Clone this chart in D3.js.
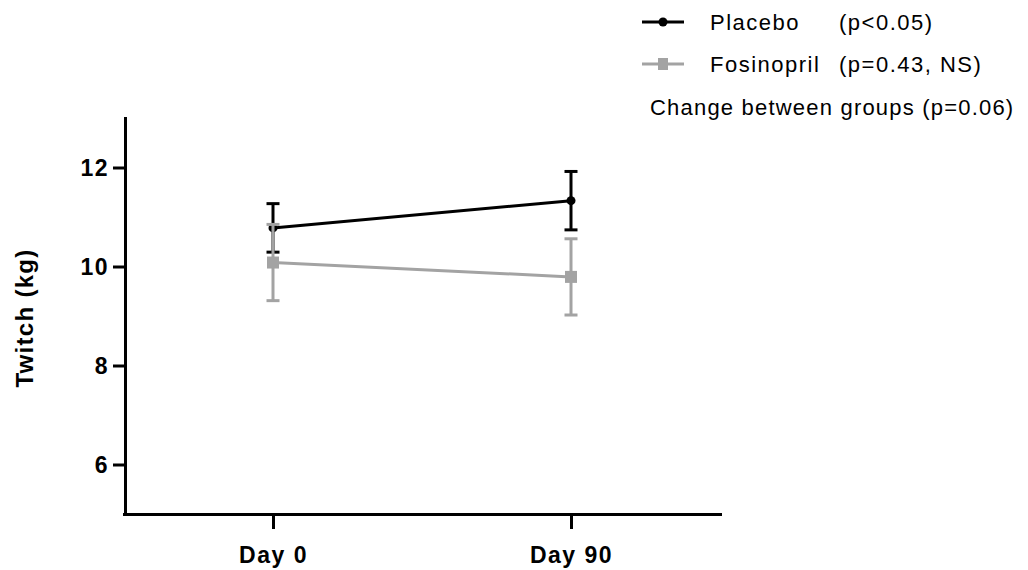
<!DOCTYPE html>
<html>
<head>
<meta charset="utf-8">
<script src="https://cdn.jsdelivr.net/npm/d3@7"></script>
<style>
  html, body { margin: 0; padding: 0; background: #fff; }
  svg { display: block; font-family: Arial, "Liberation Sans", sans-serif; }
</style>
</head>
<body>
<svg id="chart" width="1028" height="570"></svg>
<script>
// Time points and group means with SEM error bars
const timepoints = ["Day 0", "Day 90"];
const placeboMean = [10.78, 11.33];
const placeboErr = [0.49, 0.59];
const fosinoprilMean = [10.08, 9.79];
const fosinoprilErr = [0.77, 0.77];
const yTicks = [6, 8, 10, 12];

const legendItems = [
  { name: "Placebo", stat: "(p<0.05)", color: "#000", marker: "circle" },
  { name: "Fosinopril", stat: "(p=0.43, NS)", color: "#a3a3a3", marker: "square" }
];
const noteText = "Change between groups (p=0.06)";

const series = [
  { key: "Placebo", mean: placeboMean, err: placeboErr, color: "#000", marker: "circle" },
  { key: "Fosinopril", mean: fosinoprilMean, err: fosinoprilErr, color: "#a3a3a3", marker: "square" }
];

const svg = d3.select("#chart");

const x = d3.scalePoint().domain(timepoints).range([124, 720]).padding(0.5);
const y = d3.scaleLinear().domain([5, 13]).range([514, 118]);

// Axes
const yAxis = svg.append("g")
  .attr("transform", "translate(125,0)")
  .call(d3.axisLeft(y).tickValues(yTicks).tickSize(12).tickSizeOuter(0).tickPadding(4));
const xAxis = svg.append("g")
  .attr("transform", "translate(0,514)")
  .call(d3.axisBottom(x).tickSize(15).tickSizeOuter(0).tickPadding(14));

[yAxis, xAxis].forEach(g => {
  g.select(".domain").attr("stroke", "#000").attr("stroke-width", 3).attr("stroke-linecap", "square");
  g.selectAll(".tick line").attr("stroke", "#000").attr("stroke-width", 3);
  g.selectAll(".tick text")
    .attr("fill", "#000")
    .style("font-size", "23px")
    .style("font-weight", "bold")
    .style("letter-spacing", "1.5px");
});
yAxis.selectAll(".tick text").attr("dy", "0.36em");
xAxis.selectAll(".tick text").attr("dy", "0.85em");

// Y axis title
svg.append("text")
  .attr("transform", "translate(33,318) rotate(-90)")
  .attr("text-anchor", "middle")
  .style("font-size", "24px")
  .style("font-weight", "bold")
  .style("letter-spacing", "1.3px")
  .text("Twitch (kg)");

// Series: connecting line, error bars, markers
series.forEach(s => {
  const g = svg.append("g");
  const pts = timepoints.map((t, i) => ({ t, m: s.mean[i], e: s.err[i] }));

  g.append("path")
    .datum(pts)
    .attr("fill", "none")
    .attr("stroke", s.color)
    .attr("stroke-width", 3)
    .attr("d", d3.line().x(d => x(d.t)).y(d => y(d.m)));

  const eb = g.selectAll("g.eb").data(pts).join("g").attr("class", "eb");
  eb.append("line")
    .attr("x1", d => x(d.t)).attr("x2", d => x(d.t))
    .attr("y1", d => y(d.m - d.e)).attr("y2", d => y(d.m + d.e))
    .attr("stroke", s.color).attr("stroke-width", 3);
  [1, -1].forEach(sign => {
    eb.append("line")
      .attr("x1", d => x(d.t) - 6.5).attr("x2", d => x(d.t) + 6.5)
      .attr("y1", d => y(d.m + sign * d.e)).attr("y2", d => y(d.m + sign * d.e))
      .attr("stroke", s.color).attr("stroke-width", 3);
  });

  if (s.marker === "circle") {
    g.selectAll("circle").data(pts).join("circle")
      .attr("cx", d => x(d.t)).attr("cy", d => y(d.m)).attr("r", 4.5)
      .attr("fill", s.color);
  } else {
    g.selectAll("rect.mk").data(pts).join("rect").attr("class", "mk")
      .attr("x", d => x(d.t) - 6).attr("y", d => y(d.m) - 6)
      .attr("width", 12).attr("height", 12)
      .attr("fill", s.color);
  }
});

// Legend
const legend = svg.append("g");
legendItems.forEach((d, i) => {
  const cy = 22 + i * 42;
  const row = legend.append("g");
  row.append("line")
    .attr("x1", 642).attr("x2", 684).attr("y1", cy).attr("y2", cy)
    .attr("stroke", d.color).attr("stroke-width", 3);
  if (d.marker === "circle") {
    row.append("circle").attr("cx", 663).attr("cy", cy).attr("r", 4.5).attr("fill", d.color);
  } else {
    row.append("rect").attr("x", 658).attr("y", cy - 6).attr("width", 10).attr("height", 12).attr("fill", d.color);
  }
  row.append("text")
    .attr("x", 710).attr("y", cy + 8)
    .style("font-size", "22px").style("letter-spacing", "1.5px")
    .text(d.name);
  row.append("text")
    .attr("x", 839).attr("y", cy + 8)
    .style("font-size", "22px").style("letter-spacing", "1.5px")
    .text(d.stat);
});
svg.append("text")
  .attr("x", 650).attr("y", 115)
  .style("font-size", "22px").style("letter-spacing", "1.2px")
  .text(noteText);
</script>
</body>
</html>
